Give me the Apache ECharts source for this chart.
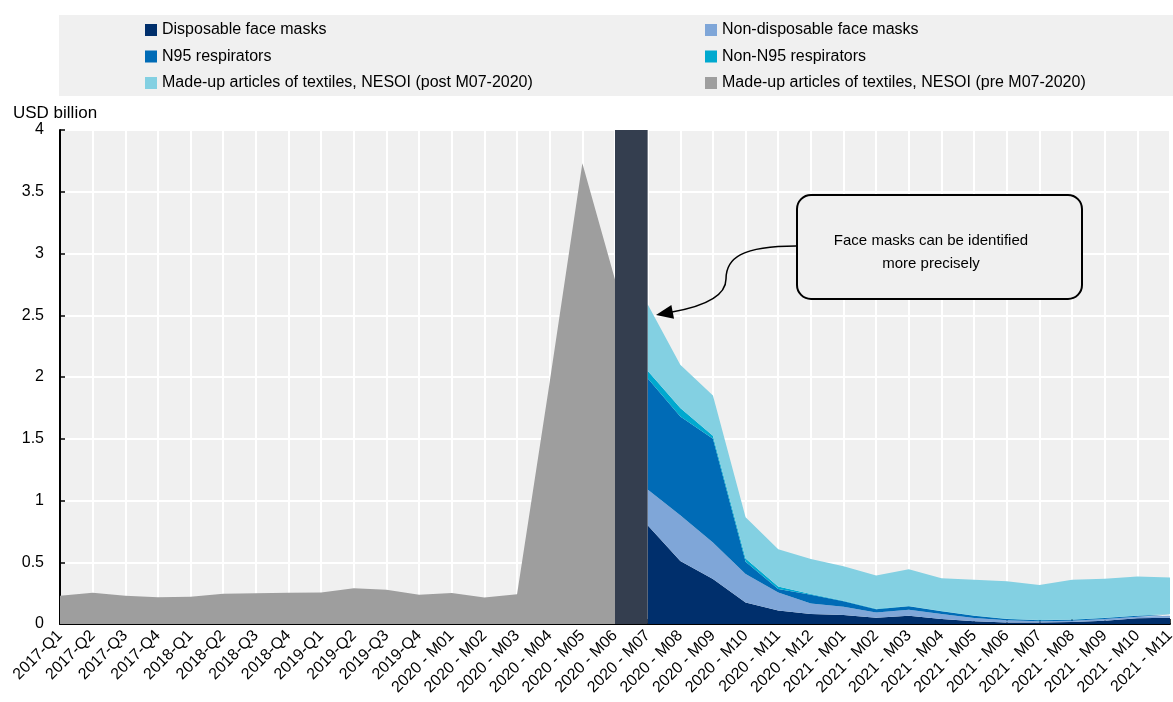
<!DOCTYPE html>
<html>
<head>
<meta charset="utf-8">
<script src="https://cdn.jsdelivr.net/npm/echarts@6/dist/echarts.min.js"></script>
<style>
  html, body { margin: 0; padding: 0; background: #fff; }
  #main { width: 1173px; height: 702px; }
</style>
</head>
<body>
<div id="main"></div>
<script>
var categories = ['2017-Q1', '2017-Q2', '2017-Q3', '2017-Q4', '2018-Q1', '2018-Q2', '2018-Q3', '2018-Q4',
    '2019-Q1', '2019-Q2', '2019-Q3', '2019-Q4',
    '2020 - M01', '2020 - M02', '2020 - M03', '2020 - M04', '2020 - M05', '2020 - M06',
    '2020 - M07', '2020 - M08', '2020 - M09', '2020 - M10', '2020 - M11', '2020 - M12',
    '2021 - M01', '2021 - M02', '2021 - M03', '2021 - M04', '2021 - M05', '2021 - M06',
    '2021 - M07', '2021 - M08', '2021 - M09', '2021 - M10', '2021 - M11'];

// 2017-Q1 .. 2020-M06
var textilesPre = [0.228, 0.253, 0.228, 0.217, 0.220, 0.245, 0.248, 0.253,
    0.256, 0.290, 0.278, 0.236, 0.252, 0.214, 0.240, 1.96, 3.73, 2.79];

// 2020-M07 .. 2021-M11
var disposable = [0.80, 0.51, 0.365, 0.175, 0.11, 0.08, 0.073, 0.05, 0.067, 0.04, 0.022, 0.013, 0.013, 0.016, 0.027, 0.046, 0.05];
var nonDisposable = [0.29, 0.37, 0.295, 0.23, 0.146, 0.087, 0.067, 0.044, 0.049, 0.041, 0.027, 0.017, 0.009, 0.011, 0.013, 0.013, 0.017];
var n95 = [0.90, 0.80, 0.84, 0.10, 0.027, 0.07, 0.044, 0.026, 0.027, 0.022, 0.018, 0.01, 0.008, 0.008, 0.009, 0.008, 0.009];
var nonN95 = [0.06, 0.07, 0.025, 0.025, 0.02, 0.006, 0.004, 0.003, 0.003, 0.003, 0.002, 0.002, 0.002, 0.002, 0.002, 0.002, 0.002];
var textilesPost = [0.54, 0.35, 0.325, 0.334, 0.303, 0.283, 0.28, 0.27, 0.297, 0.264, 0.289, 0.305, 0.283, 0.321, 0.315, 0.316, 0.299];

var yTicks = [0, 0.5, 1, 1.5, 2, 2.5, 3, 3.5, 4];

var FONT = '"Liberation Sans", Arial, sans-serif';

function padPre(arr) {
    var out = arr.slice();
    while (out.length < categories.length) out.push(null);
    return out;
}
function padPost(arr) {
    var out = [];
    for (var i = 0; i < categories.length - arr.length; i++) out.push(null);
    return out.concat(arr);
}

function areaSeries(name, data, color) {
    return {
        name: name,
        type: 'line',
        stack: 'post',
        data: padPost(data),
        symbol: 'none',
        showSymbol: false,
        lineStyle: { width: 0 },
        areaStyle: { color: color, opacity: 1 },
        itemStyle: { color: color },
        z: 2
    };
}

var myChart = echarts.init(document.getElementById('main'));
option = {
    animation: false,
    backgroundColor: '#ffffff',
    textStyle: { fontFamily: FONT },
    title: {
        text: 'USD billion',
        left: 8,
        top: 100,
        textStyle: { fontFamily: FONT, fontSize: 17, fontWeight: 'normal', color: '#000' }
    },
    legend: [
        {
            orient: 'vertical',
            left: 140,
            top: 16,
            itemWidth: 12,
            itemHeight: 12,
            itemGap: 8.5,
            icon: 'rect',
            data: ['Disposable face masks', 'N95 respirators', 'Made-up articles of textiles, NESOI (post M07-2020)'],
            textStyle: { fontFamily: FONT, fontSize: 16, color: '#000', lineHeight: 18 }
        },
        {
            orient: 'vertical',
            left: 700,
            top: 16,
            itemWidth: 12,
            itemHeight: 12,
            itemGap: 8.5,
            icon: 'rect',
            data: ['Non-disposable face masks', 'Non-N95 respirators', 'Made-up articles of textiles, NESOI (pre M07-2020)'],
            textStyle: { fontFamily: FONT, fontSize: 16, color: '#000', lineHeight: 18 }
        }
    ],
    grid: {
        left: 60,
        right: 3,
        top: 130,
        bottom: 78,
        outerBoundsMode: 'none',
        show: true,
        backgroundColor: '#f0f0f0',
        borderWidth: 0
    },
    xAxis: {
        type: 'category',
        boundaryGap: false,
        data: categories,
        axisLine: { lineStyle: { color: '#000', width: 2 } },
        axisTick: { inside: true, length: 5, lineStyle: { color: '#000', width: 1.5 }, interval: 0 },
        axisLabel: { rotate: 45, interval: 0, fontSize: 16, color: '#000', fontFamily: FONT, margin: 9, hideOverlap: false },
        splitLine: { show: true, interval: 0, lineStyle: { color: '#ffffff', width: 2 } }
    },
    yAxis: {
        type: 'value',
        min: yTicks[0],
        max: yTicks[yTicks.length - 1],
        interval: 0.5,
        axisLine: { show: true, lineStyle: { color: '#000', width: 2 } },
        axisTick: { show: true, inside: true, length: 5, lineStyle: { color: '#000', width: 1.5 } },
        axisLabel: { fontSize: 16, color: '#000', fontFamily: FONT, margin: 16 },
        splitLine: { show: true, lineStyle: { color: '#ffffff', width: 2 } }
    },
    series: [
        areaSeries('Disposable face masks', disposable, '#002f6c'),
        areaSeries('Non-disposable face masks', nonDisposable, '#7fa6d8'),
        areaSeries('N95 respirators', n95, '#006bb6'),
        areaSeries('Non-N95 respirators', nonN95, '#00a9cf'),
        areaSeries('Made-up articles of textiles, NESOI (post M07-2020)', textilesPost, '#83d0e2'),
        {
            name: 'Made-up articles of textiles, NESOI (pre M07-2020)',
            type: 'line',
            data: padPre(textilesPre),
            symbol: 'none',
            showSymbol: false,
            lineStyle: { width: 0 },
            areaStyle: { color: '#9e9e9e', opacity: 1 },
            itemStyle: { color: '#9e9e9e' },
            z: 2,
            markArea: {
                silent: true,
                z: 10,
                itemStyle: { color: '#343e4f', opacity: 1 },
                data: [[{ xAxis: '2020 - M06' }, { xAxis: '2020 - M07' }]]
            }
        }
    ],
    graphic: [
        {
            type: 'rect',
            z: -10,
            silent: true,
            shape: { x: 59, y: 15, width: 1114, height: 81 },
            style: { fill: '#f0f0f0' }
        },
        {
            type: 'rect',
            z: 50,
            silent: true,
            shape: { x: 797, y: 195, width: 285, height: 104, r: 14 },
            style: { fill: '#f0f0f0', stroke: '#000', lineWidth: 2 }
        },
        {
            type: 'text',
            z: 51,
            silent: true,
            style: {
                x: 931, y: 252,
                text: 'Face masks can be identified\nmore precisely',
                align: 'center', verticalAlign: 'middle',
                font: '15px ' + FONT,
                lineHeight: 23,
                fill: '#000'
            }
        },
        {
            type: 'bezierCurve',
            z: 51,
            silent: true,
            shape: { x1: 796, y1: 246, cpx1: 742, cpy1: 246, cpx2: 726, cpy2: 258, x2: 726, y2: 279 },
            style: { fill: 'none', stroke: '#000', lineWidth: 1.5 }
        },
        {
            type: 'bezierCurve',
            z: 51,
            silent: true,
            shape: { x1: 726, y1: 279, cpx1: 726, cpy1: 298, cpx2: 700, cpy2: 307, x2: 672, y2: 312 },
            style: { fill: 'none', stroke: '#000', lineWidth: 1.5 }
        },
        {
            type: 'polygon',
            z: 51,
            silent: true,
            shape: { points: [[656, 315], [671.4, 304.9], [674, 318.7]] },
            style: { fill: '#000' }
        }
    ]
};
myChart.setOption(option);
</script>
</body>
</html>
